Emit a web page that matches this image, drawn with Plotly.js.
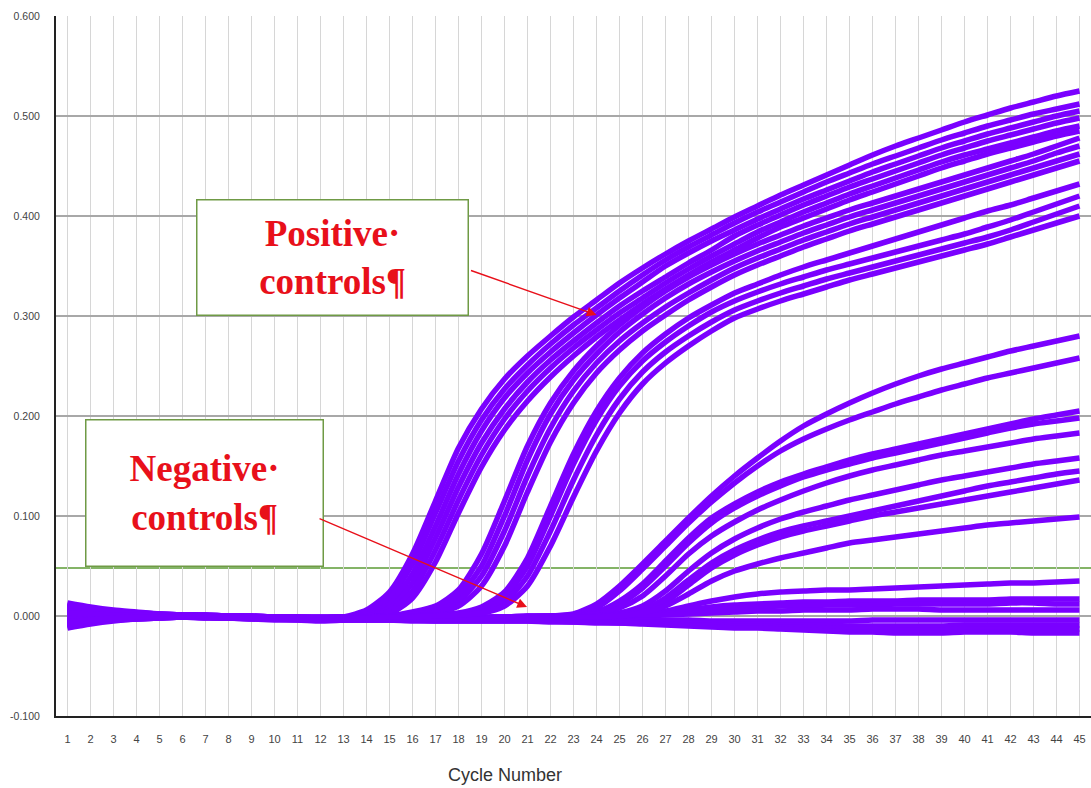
<!DOCTYPE html>
<html>
<head>
<meta charset="utf-8">
<script src="https://cdn.plot.ly/plotly-3.0.1.min.js"></script>
<style>html,body{margin:0;padding:0;background:#fff;}#chart{width:1091px;height:788px;}</style>
</head>
<body>
<div id="chart"></div>
<script>
// ---- Data (amplification curves, fluorescence vs cycle) ----
const cycles = [1,2,3,4,5,6,7,8,9,10,11,12,13,14,15,16,17,18,19,20,21,22,23,24,25,26,27,28,29,30,31,32,33,34,35,36,37,38,39,40,41,42,43,44,45];
const yTickVals = [-0.1,0,0.1,0.2,0.3,0.4,0.5,0.6];
const yTickText = ["-0.100","0.000","0.100","0.200","0.300","0.400","0.500","0.600"];
const threshold = 0.048;
const xTitle = "Cycle Number";
const posLabel = "<b>Positive·</b><br><b>controls¶</b>";
const negLabel = "<b>Negative·</b><br><b>controls¶</b>";

// Positive controls - early group
const pos1 = [0.012,0.008,0.005,0.003,0.002,0.001,0.001,0.000,0.000,-0.001,-0.001,-0.002,-0.001,0.006,0.024,0.062,0.115,0.168,0.207,0.237,0.260,0.280,0.299,0.316,0.333,0.348,0.362,0.375,0.387,0.399,0.410,0.421,0.431,0.441,0.451,0.461,0.470,0.478,0.486,0.494,0.501,0.508,0.514,0.520,0.525];
const pos2 = [0.006,0.004,0.003,0.002,0.001,0.000,0.000,-0.001,-0.001,-0.002,-0.002,-0.003,-0.002,0.004,0.018,0.052,0.103,0.155,0.196,0.227,0.251,0.272,0.291,0.308,0.325,0.341,0.356,0.369,0.381,0.393,0.404,0.414,0.424,0.434,0.443,0.452,0.460,0.468,0.476,0.483,0.490,0.496,0.502,0.507,0.512];
const pos3 = [0.010,0.007,0.004,0.002,0.001,0.001,0.000,0.000,-0.001,-0.001,-0.002,-0.002,-0.001,0.002,0.012,0.042,0.090,0.142,0.185,0.218,0.243,0.264,0.283,0.301,0.318,0.334,0.350,0.363,0.375,0.386,0.397,0.407,0.417,0.426,0.435,0.444,0.452,0.460,0.468,0.475,0.482,0.488,0.494,0.500,0.505];
const pos4 = [-0.005,-0.003,-0.002,-0.001,0.000,0.000,-0.001,-0.001,-0.002,-0.002,-0.003,-0.003,-0.002,0.001,0.008,0.033,0.078,0.129,0.173,0.207,0.234,0.256,0.275,0.293,0.310,0.325,0.339,0.353,0.366,0.380,0.391,0.401,0.411,0.420,0.429,0.437,0.445,0.453,0.461,0.468,0.475,0.481,0.487,0.493,0.498];
const pos5 = [-0.010,-0.006,-0.004,-0.003,-0.002,-0.001,-0.001,-0.002,-0.002,-0.003,-0.003,-0.004,-0.003,0.000,0.005,0.025,0.066,0.116,0.161,0.197,0.225,0.248,0.268,0.286,0.303,0.318,0.333,0.347,0.360,0.372,0.384,0.394,0.404,0.413,0.422,0.430,0.438,0.446,0.454,0.461,0.467,0.473,0.479,0.485,0.490];
const pos6 = [-0.008,-0.005,-0.003,-0.002,-0.001,-0.001,-0.002,-0.002,-0.003,-0.004,-0.004,-0.005,-0.004,-0.002,0.002,0.018,0.054,0.103,0.149,0.186,0.215,0.239,0.260,0.279,0.296,0.312,0.327,0.341,0.354,0.366,0.378,0.389,0.398,0.407,0.416,0.424,0.432,0.440,0.448,0.455,0.462,0.468,0.474,0.480,0.485];
// Positive controls - middle group
const pos7 = [0.008,0.005,0.003,0.002,0.001,0.001,0.000,-0.001,-0.001,-0.002,-0.002,-0.002,-0.002,-0.001,0.000,0.004,0.010,0.026,0.062,0.115,0.170,0.213,0.245,0.270,0.291,0.309,0.325,0.339,0.351,0.362,0.372,0.381,0.390,0.398,0.406,0.413,0.420,0.427,0.434,0.441,0.448,0.455,0.462,0.470,0.478];
const pos8 = [-0.003,-0.002,-0.001,0.000,0.000,0.000,-0.001,-0.001,-0.002,-0.002,-0.003,-0.003,-0.002,-0.001,0.000,0.002,0.007,0.020,0.050,0.100,0.156,0.202,0.236,0.262,0.284,0.302,0.318,0.332,0.344,0.355,0.365,0.374,0.383,0.391,0.399,0.406,0.413,0.420,0.427,0.434,0.441,0.448,0.455,0.463,0.470];
const pos9 = [0.004,0.003,0.002,0.001,0.001,0.000,0.000,-0.001,-0.001,-0.001,-0.002,-0.002,-0.001,-0.001,0.000,0.001,0.005,0.015,0.040,0.085,0.140,0.188,0.225,0.253,0.275,0.293,0.309,0.323,0.336,0.348,0.358,0.367,0.376,0.384,0.392,0.399,0.406,0.413,0.420,0.427,0.434,0.441,0.448,0.455,0.462];
const pos10 = [-0.007,-0.004,-0.003,-0.002,-0.001,-0.001,-0.001,-0.002,-0.002,-0.003,-0.003,-0.004,-0.003,-0.002,-0.001,0.000,0.003,0.010,0.030,0.070,0.124,0.174,0.213,0.243,0.266,0.285,0.301,0.316,0.329,0.341,0.351,0.360,0.369,0.377,0.385,0.392,0.399,0.406,0.413,0.420,0.427,0.434,0.441,0.448,0.455];
// Positive controls - later group (lower plateau)
const pos11 = [0.009,0.006,0.004,0.002,0.001,0.001,0.000,0.000,-0.001,-0.001,-0.001,-0.002,-0.001,-0.001,0.000,0.000,0.001,0.003,0.009,0.024,0.058,0.110,0.162,0.205,0.238,0.263,0.282,0.298,0.311,0.323,0.332,0.341,0.349,0.356,0.363,0.370,0.377,0.384,0.391,0.398,0.405,0.411,0.418,0.425,0.432];
const pos12 = [-0.002,-0.001,-0.001,0.000,0.000,0.000,-0.001,-0.001,-0.001,-0.002,-0.002,-0.003,-0.002,-0.001,0.000,0.000,0.001,0.002,0.006,0.019,0.050,0.100,0.152,0.196,0.230,0.255,0.274,0.290,0.304,0.315,0.324,0.332,0.339,0.346,0.352,0.358,0.364,0.370,0.376,0.382,0.389,0.396,0.404,0.412,0.420];
const pos13 = [0.003,0.002,0.001,0.001,0.000,0.000,-0.001,-0.001,-0.002,-0.002,-0.002,-0.003,-0.002,-0.002,-0.001,0.000,0.000,0.001,0.004,0.014,0.040,0.085,0.136,0.181,0.217,0.244,0.264,0.280,0.294,0.306,0.315,0.323,0.330,0.337,0.343,0.349,0.355,0.361,0.367,0.373,0.379,0.386,0.394,0.402,0.410];
const pos14 = [-0.006,-0.004,-0.002,-0.001,-0.001,-0.001,-0.001,-0.002,-0.002,-0.003,-0.003,-0.004,-0.003,-0.002,-0.001,-0.001,0.000,0.001,0.003,0.010,0.030,0.070,0.119,0.165,0.203,0.232,0.253,0.270,0.285,0.298,0.307,0.315,0.322,0.329,0.336,0.342,0.348,0.354,0.360,0.366,0.372,0.379,0.386,0.393,0.400];
// Late samples
const late1 = [0.011,0.007,0.004,0.003,0.002,0.001,0.001,0.000,0.000,-0.001,-0.001,-0.001,-0.001,-0.001,-0.001,-0.002,-0.002,-0.002,-0.001,-0.001,0.000,0.000,0.002,0.012,0.030,0.052,0.075,0.098,0.120,0.140,0.158,0.175,0.190,0.202,0.213,0.223,0.232,0.240,0.247,0.253,0.259,0.265,0.270,0.275,0.280];
const late2 = [-0.004,-0.002,-0.001,0.000,0.000,0.000,-0.001,-0.001,-0.002,-0.002,-0.002,-0.003,-0.002,-0.002,-0.002,-0.002,-0.003,-0.002,-0.002,-0.001,-0.001,0.000,0.001,0.008,0.025,0.047,0.070,0.093,0.114,0.133,0.150,0.165,0.177,0.187,0.196,0.204,0.212,0.219,0.226,0.232,0.238,0.243,0.248,0.253,0.258];
const late3 = [0.007,0.005,0.003,0.002,0.001,0.001,0.000,0.000,-0.001,-0.001,-0.002,-0.002,-0.001,-0.001,-0.002,-0.002,-0.002,-0.002,-0.001,-0.001,0.000,0.000,0.001,0.004,0.015,0.032,0.055,0.078,0.098,0.112,0.124,0.134,0.142,0.149,0.156,0.162,0.167,0.172,0.177,0.182,0.187,0.192,0.197,0.201,0.205];
const late4 = [-0.001,0.000,0.000,0.000,0.000,0.000,-0.001,-0.001,-0.001,-0.002,-0.002,-0.002,-0.002,-0.002,-0.002,-0.003,-0.003,-0.002,-0.002,-0.001,-0.001,0.000,0.000,0.003,0.012,0.028,0.050,0.073,0.093,0.108,0.120,0.130,0.139,0.146,0.152,0.158,0.163,0.168,0.173,0.178,0.183,0.188,0.192,0.195,0.198];
const late5 = [0.005,0.003,0.002,0.001,0.001,0.000,0.000,-0.001,-0.001,-0.001,-0.002,-0.002,-0.002,-0.002,-0.002,-0.002,-0.003,-0.003,-0.002,-0.002,-0.001,-0.001,0.000,0.002,0.008,0.020,0.040,0.062,0.080,0.094,0.106,0.116,0.125,0.133,0.140,0.146,0.151,0.156,0.161,0.165,0.169,0.173,0.177,0.180,0.183];
const late6 = [-0.009,-0.005,-0.003,-0.002,-0.001,-0.001,-0.001,-0.002,-0.002,-0.003,-0.003,-0.003,-0.003,-0.003,-0.003,-0.003,-0.004,-0.004,-0.003,-0.003,-0.002,-0.002,-0.001,0.000,0.003,0.010,0.025,0.045,0.063,0.077,0.088,0.097,0.104,0.110,0.116,0.121,0.126,0.131,0.136,0.140,0.144,0.148,0.152,0.155,0.158];
const late7 = [0.002,0.001,0.001,0.000,0.000,0.000,-0.001,-0.001,-0.001,-0.002,-0.002,-0.002,-0.002,-0.002,-0.002,-0.002,-0.003,-0.003,-0.003,-0.002,-0.002,-0.001,-0.001,0.000,0.002,0.006,0.018,0.036,0.053,0.066,0.076,0.084,0.090,0.095,0.100,0.105,0.110,0.115,0.120,0.125,0.130,0.134,0.138,0.142,0.145];
const late8 = [-0.005,-0.003,-0.002,-0.001,-0.001,0.000,-0.001,-0.001,-0.002,-0.002,-0.003,-0.003,-0.003,-0.003,-0.003,-0.004,-0.004,-0.004,-0.003,-0.003,-0.003,-0.002,-0.002,-0.001,0.001,0.004,0.014,0.031,0.048,0.061,0.071,0.079,0.085,0.090,0.095,0.100,0.104,0.108,0.112,0.116,0.120,0.124,0.128,0.132,0.136];
const late9 = [0.004,0.003,0.002,0.001,0.001,0.000,0.000,-0.001,-0.001,-0.002,-0.002,-0.002,-0.002,-0.002,-0.003,-0.003,-0.003,-0.003,-0.003,-0.002,-0.002,-0.002,-0.001,-0.001,0.000,0.003,0.010,0.022,0.035,0.045,0.052,0.058,0.063,0.068,0.073,0.076,0.079,0.082,0.085,0.088,0.091,0.093,0.095,0.097,0.099];
// Negative controls / flat
const neg1 = [0.013,0.009,0.006,0.004,0.002,0.001,0.001,0.000,0.000,-0.001,-0.001,-0.001,-0.001,-0.001,-0.002,-0.002,-0.002,-0.002,-0.002,-0.001,-0.001,-0.001,0.000,0.000,0.001,0.002,0.005,0.010,0.015,0.019,0.022,0.024,0.025,0.026,0.026,0.027,0.028,0.029,0.030,0.031,0.032,0.033,0.033,0.034,0.035];
const neg2 = [-0.011,-0.007,-0.004,-0.003,-0.002,-0.001,-0.001,-0.002,-0.002,-0.002,-0.003,-0.003,-0.003,-0.003,-0.003,-0.003,-0.003,-0.003,-0.003,-0.002,-0.002,-0.002,-0.001,-0.001,0.000,0.001,0.003,0.006,0.009,0.011,0.012,0.013,0.014,0.014,0.015,0.015,0.015,0.016,0.016,0.016,0.016,0.017,0.017,0.017,0.017];
const neg3 = [0.008,0.005,0.003,0.002,0.001,0.000,0.000,-0.001,-0.001,-0.002,-0.002,-0.002,-0.002,-0.002,-0.002,-0.003,-0.003,-0.003,-0.002,-0.002,-0.002,-0.001,-0.001,0.000,0.000,0.001,0.002,0.004,0.006,0.008,0.009,0.010,0.010,0.011,0.011,0.011,0.012,0.012,0.012,0.012,0.012,0.013,0.013,0.012,0.012];
const neg4 = [-0.007,-0.004,-0.002,-0.001,-0.001,0.000,-0.001,-0.001,-0.002,-0.002,-0.002,-0.003,-0.003,-0.003,-0.003,-0.003,-0.003,-0.003,-0.003,-0.002,-0.002,-0.002,-0.002,-0.001,-0.001,0.000,0.001,0.002,0.003,0.004,0.005,0.005,0.006,0.006,0.006,0.007,0.007,0.007,0.006,0.006,0.006,0.006,0.006,0.006,0.006];
const neg5 = [0.003,0.002,0.001,0.001,0.000,0.000,-0.001,-0.001,-0.001,-0.002,-0.002,-0.003,-0.003,-0.003,-0.003,-0.003,-0.004,-0.004,-0.004,-0.003,-0.003,-0.003,-0.003,-0.003,-0.004,-0.004,-0.004,-0.004,-0.005,-0.005,-0.005,-0.005,-0.005,-0.005,-0.005,-0.004,-0.004,-0.004,-0.004,-0.004,-0.004,-0.004,-0.004,-0.004,-0.004];
const neg6 = [-0.009,-0.006,-0.004,-0.002,-0.001,-0.001,-0.001,-0.002,-0.002,-0.003,-0.003,-0.004,-0.004,-0.004,-0.004,-0.004,-0.004,-0.004,-0.004,-0.004,-0.004,-0.004,-0.005,-0.005,-0.005,-0.006,-0.006,-0.007,-0.007,-0.008,-0.008,-0.009,-0.009,-0.009,-0.010,-0.010,-0.010,-0.010,-0.010,-0.009,-0.009,-0.009,-0.009,-0.009,-0.009];
const neg7 = [0.001,0.001,0.000,0.000,0.000,0.000,-0.001,-0.001,-0.002,-0.002,-0.003,-0.003,-0.004,-0.004,-0.004,-0.004,-0.005,-0.005,-0.005,-0.005,-0.005,-0.005,-0.006,-0.006,-0.007,-0.007,-0.008,-0.009,-0.009,-0.010,-0.010,-0.011,-0.011,-0.012,-0.013,-0.013,-0.014,-0.014,-0.014,-0.013,-0.013,-0.013,-0.013,-0.013,-0.013];
const neg8 = [-0.012,-0.008,-0.005,-0.003,-0.002,-0.001,-0.002,-0.002,-0.003,-0.003,-0.004,-0.004,-0.004,-0.004,-0.004,-0.005,-0.005,-0.005,-0.005,-0.005,-0.005,-0.006,-0.006,-0.007,-0.007,-0.008,-0.009,-0.010,-0.011,-0.012,-0.012,-0.013,-0.014,-0.015,-0.016,-0.016,-0.017,-0.017,-0.017,-0.016,-0.016,-0.016,-0.017,-0.017,-0.017];

const series = [neg1,neg2,neg3,neg4,neg5,neg6,neg7,neg8,
  late1,late2,late3,late4,late5,late6,late7,late8,late9,
  pos1,pos2,pos3,pos4,pos5,pos6,pos7,pos8,pos9,pos10,pos11,pos12,pos13,pos14];

const curveColor = '#7a00ff';
const traces = series.map(function(vals){
  return {x: cycles, y: vals, type: 'scatter', mode: 'lines',
    line: {color: curveColor, width: 5.5, shape: 'spline', smoothing: 0.7},
    hoverinfo: 'skip'};
});

const boxLine = '#6f9a45';
const labelRed = '#e8101a';
const labelFont = {family: 'Liberation Serif, Times New Roman, serif', size: 37, color: labelRed};

const layout = {
  width: 1091, height: 788,
  margin: {l: 56, r: 0, t: 16, b: 72},
  paper_bgcolor: '#ffffff', plot_bgcolor: '#ffffff',
  showlegend: false,
  xaxis: {
    range: [0.5, 45.5], tickmode: 'array', tickvals: cycles, ticktext: cycles.map(String),
    showgrid: true, gridcolor: '#d6d6d6', gridwidth: 1,
    showline: true, linecolor: '#222222', linewidth: 2,
    ticks: '', ticklabelstandoff: 12, zeroline: false,
    tickfont: {family: 'Liberation Sans, Arial, sans-serif', size: 11, color: '#444'}
  },
  yaxis: {
    range: [-0.1, 0.6], tickmode: 'array', tickvals: yTickVals, ticktext: yTickText,
    showgrid: true, gridcolor: '#a8a8a8', gridwidth: 1.5,
    showline: true, linecolor: '#222222', linewidth: 2,
    ticks: '', ticklabelstandoff: 12, zeroline: false,
    tickfont: {family: 'Liberation Sans, Arial, sans-serif', size: 10.5, color: '#444'}
  },
  shapes: [
    {type: 'line', xref: 'paper', x0: 0, x1: 1, yref: 'y', y0: threshold, y1: threshold,
     line: {color: '#5b9b34', width: 1.5}, layer: 'below'}
  ],
  annotations: [
    {xref: 'paper', yref: 'paper', x: 0.434, y: -0.084, xanchor: 'center', yanchor: 'middle',
     text: xTitle, showarrow: false,
     font: {family: 'Liberation Sans, Arial, sans-serif', size: 18, color: '#333'}},
    {xref: 'paper', yref: 'paper', x: 0.2676, y: 0.6557, xanchor: 'center', yanchor: 'middle',
     text: posLabel, showarrow: false, width: 270, height: 114, borderpad: 0,
     bgcolor: '#ffffff', bordercolor: boxLine, borderwidth: 1.5, align: 'center', valign: 'middle',
     font: labelFont},
    {xref: 'paper', yref: 'paper', x: 0.143, y: 0.3179, xanchor: 'center', yanchor: 'middle',
     text: negLabel, showarrow: false, width: 236, height: 145, borderpad: 0,
     bgcolor: '#ffffff', bordercolor: boxLine, borderwidth: 1.5, align: 'center', valign: 'middle',
     font: labelFont},
    {xref: 'x', yref: 'y', x: 24.0, y: 0.301, text: '', showarrow: true,
     axref: 'pixel', ayref: 'pixel', ax: -127, ay: -45,
     arrowhead: 2, arrowsize: 1.4, arrowwidth: 1.4, arrowcolor: labelRed, standoff: 0},
    {xref: 'x', yref: 'y', x: 20.98, y: 0.009, text: '', showarrow: true,
     axref: 'pixel', ayref: 'pixel', ax: -209, ay: -89,
     arrowhead: 2, arrowsize: 1.4, arrowwidth: 1.4, arrowcolor: labelRed, standoff: 0}
  ]
};

Plotly.newPlot('chart', traces, layout, {staticPlot: true, displayModeBar: false});
</script>
</body>
</html>
